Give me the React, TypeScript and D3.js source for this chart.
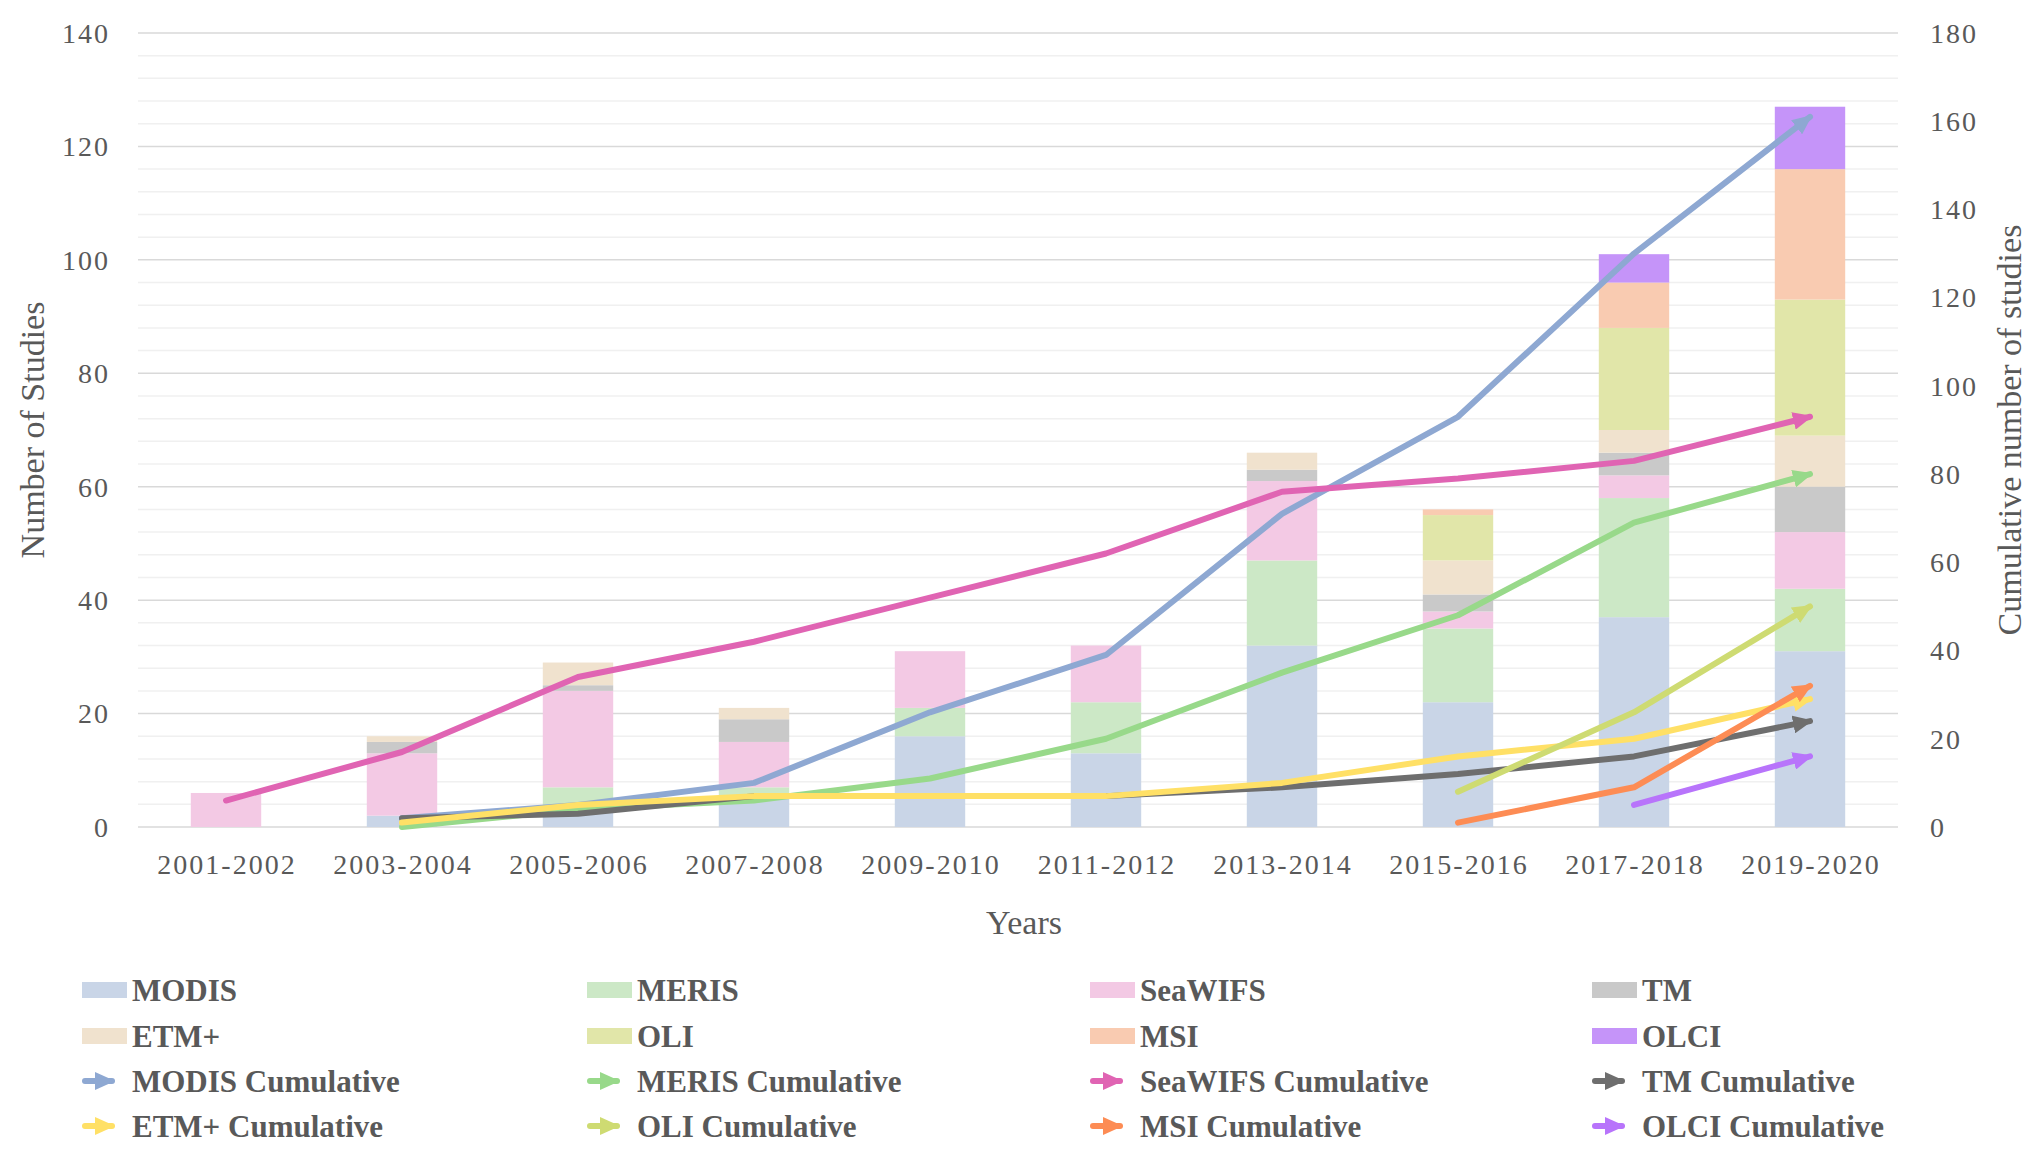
import * as d3 from 'd3'

const categories = ['2001-2002', '2003-2004', '2005-2006', '2007-2008', '2009-2010', '2011-2012', '2013-2014', '2015-2016', '2017-2018', '2019-2020']
const sensors = ['MODIS', 'MERIS', 'SeaWIFS', 'TM', 'ETM+', 'OLI', 'MSI', 'OLCI']

// studies per period, per sensor (bars)
const modis = [0, 2, 3, 5, 16, 13, 32, 22, 37, 31]
const meris = [0, 0, 4, 2, 5, 9, 15, 13, 21, 11]
const seawifs = [6, 11, 17, 8, 10, 10, 14, 3, 4, 10]
const tm = [0, 2, 1, 4, 0, 0, 2, 3, 4, 8]
const etm = [0, 1, 4, 2, 0, 0, 3, 6, 4, 9]
const oli = [0, 0, 0, 0, 0, 0, 0, 8, 18, 24]
const msi = [0, 0, 0, 0, 0, 0, 0, 1, 8, 23]
const olci = [0, 0, 0, 0, 0, 0, 0, 0, 5, 11]

// cumulative counts (right axis)
const modisCum = [null, 2, 5, 10, 26, 39, 71, 93, 130, 161]
const merisCum = [null, 0, 4, 6, 11, 20, 35, 48, 69, 80]
const seawifsCum = [6, 17, 34, 42, 52, 62, 76, 79, 83, 93]
const tmCum = [null, 2, 3, 7, 7, 7, 9, 12, 16, 24]
const etmCum = [null, 1, 5, 7, 7, 7, 10, 16, 20, 29]
const oliCum = [null, null, null, null, null, null, null, 8, 26, 50]
const msiCum = [null, null, null, null, null, null, null, 1, 9, 32]
const olciCum = [null, null, null, null, null, null, null, null, 5, 16]

const leftTicks = [0, 20, 40, 60, 80, 100, 120, 140]
const rightTicks = [0, 20, 40, 60, 80, 100, 120, 140, 160, 180]

const barValues = [modis, meris, seawifs, tm, etm, oli, msi, olci]
const cumValues = [modisCum, merisCum, seawifsCum, tmCum, etmCum, oliCum, msiCum, olciCum]

const barColors = ['#c9d5e7', '#cce8c6', '#f3c9e4', '#c9c9c9', '#f0e2ce', '#e1e6a9', '#f9cbb1', '#c594f9']
const lineColors = ['#8ea8d2', '#98d98a', '#e064b3', '#6e6e6e', '#ffe066', '#cedb72', '#fd8c54', '#b874fb']

const W = 2036
const H = 1155
const margin = { top: 33, right: 138, bottom: 328, left: 138 }
const plotLeft = margin.left
const plotRight = W - margin.right
const plotTop = margin.top
const plotBottom = H - margin.bottom

const textColor = '#595959'

export default function App() {
  const x = d3.scaleBand<string>()
    .domain(categories)
    .range([plotLeft, plotRight])
    .paddingInner(0.6)
    .paddingOuter(0.3)

  const yLeft = d3.scaleLinear().domain([0, 140]).range([plotBottom, plotTop])
  const yRight = d3.scaleLinear().domain([0, 180]).range([plotBottom, plotTop])

  const rows = categories.map((c, i) => {
    const r: Record<string, any> = { cat: c }
    sensors.forEach((s, k) => { r[s] = barValues[k][i] })
    return r
  })
  const stacked = d3.stack<any>().keys(sensors)(rows)

  const gridVals = d3.range(0, 141, 4)

  const line = d3.line<number | null>()
    .defined(d => d != null)
    .x((_, i) => (x(categories[i]) as number) + x.bandwidth() / 2)
    .y(d => yRight(d as number))

  const legendColX = [82, 587, 1090, 1592]
  const legendRowY = [990, 1036, 1081, 1126]

  return (
    <svg width={W} height={H} style={{ position: 'absolute', left: 0, top: 0, background: '#fff' }}>
      <defs>
        {lineColors.map((c, k) => (
          <marker key={k} id={`arrow${k}`} markerUnits="userSpaceOnUse" viewBox="0 0 20 18"
            markerWidth={20} markerHeight={18} refX={17} refY={9} orient="auto">
            <path d="M0,0 L20,9 L0,18 Z" fill={c} />
          </marker>
        ))}
      </defs>

      {/* gridlines */}
      {gridVals.map(v => (
        <line key={v} x1={plotLeft} x2={plotRight} y1={yLeft(v)} y2={yLeft(v)}
          stroke={v % 20 === 0 ? '#d9d9d9' : '#f0f0f0'} strokeWidth={1.5} />
      ))}

      {/* stacked bars */}
      {stacked.map((layer, k) => (
        <g key={sensors[k]} fill={barColors[k]}>
          {layer.map((d, i) => d[1] - d[0] > 0 ? (
            <rect key={i} x={x(categories[i])} width={x.bandwidth()}
              y={yLeft(d[1])} height={yLeft(d[0]) - yLeft(d[1])} />
          ) : null)}
        </g>
      ))}

      {/* cumulative lines */}
      {cumValues.map((vals, k) => {
        const last = vals.length - 1
        return (
          <path key={k} d={line(vals) || ''} fill="none" stroke={lineColors[k]} strokeWidth={6}
            strokeLinecap="round" strokeLinejoin="round"
            markerEnd={vals[last] != null ? `url(#arrow${k})` : undefined} />
        )
      })}

      {/* left axis */}
      {leftTicks.map(t => (
        <text key={t} x={110} y={yLeft(t)} dy="0.35em" textAnchor="end" fontFamily="'Liberation Serif', serif"
          fontSize={28} letterSpacing={2} fill={textColor}>{t}</text>
      ))}
      {/* right axis */}
      {rightTicks.map(t => (
        <text key={t} x={1930} y={yRight(t)} dy="0.35em" textAnchor="start" fontFamily="'Liberation Serif', serif"
          fontSize={28} letterSpacing={2} fill={textColor}>{t}</text>
      ))}
      {/* category labels */}
      {categories.map(c => (
        <text key={c} x={(x(c) as number) + x.bandwidth() / 2 + 1} y={874} textAnchor="middle"
          fontFamily="'Liberation Serif', serif" fontSize={28} letterSpacing={2} fill={textColor}>{c}</text>
      ))}

      {/* axis titles */}
      <text x={(plotLeft + plotRight) / 2 + 6} y={934} textAnchor="middle" fontFamily="'Liberation Serif', serif"
        fontSize={34} fill={textColor}>Years</text>
      <text transform={`translate(44, ${(plotTop + plotBottom) / 2}) rotate(-90)`} textAnchor="middle"
        fontFamily="'Liberation Serif', serif" fontSize={34} fill={textColor}>Number of Studies</text>
      <text transform={`translate(2021, ${(plotTop + plotBottom) / 2}) rotate(-90)`} textAnchor="middle"
        fontFamily="'Liberation Serif', serif" fontSize={34} fill={textColor}>Cumulative number of studies</text>

      {/* legend */}
      {sensors.map((s, k) => {
        const col = k % 4
        const row = Math.floor(k / 4)
        const lx = legendColX[col]
        const ly = legendRowY[row]
        return (
          <g key={s}>
            <rect x={lx} y={ly - 8} width={45} height={16} fill={barColors[k]} />
            <text x={lx + 50} y={ly} dy="0.35em" fontFamily="'Liberation Serif', serif" fontWeight="bold"
              fontSize={31} fill={textColor}>{s}</text>
          </g>
        )
      })}
      {sensors.map((s, k) => {
        const col = k % 4
        const row = Math.floor(k / 4) + 2
        const lx = legendColX[col]
        const ly = legendRowY[row]
        return (
          <g key={s + 'c'}>
            <line x1={lx + 3} x2={lx + 30} y1={ly} y2={ly} stroke={lineColors[k]} strokeWidth={6}
              strokeLinecap="round" markerEnd={`url(#arrow${k})`} />
            <text x={lx + 50} y={ly} dy="0.35em" fontFamily="'Liberation Serif', serif" fontWeight="bold"
              fontSize={31} fill={textColor}>{s} Cumulative</text>
          </g>
        )
      })}
    </svg>
  )
}
